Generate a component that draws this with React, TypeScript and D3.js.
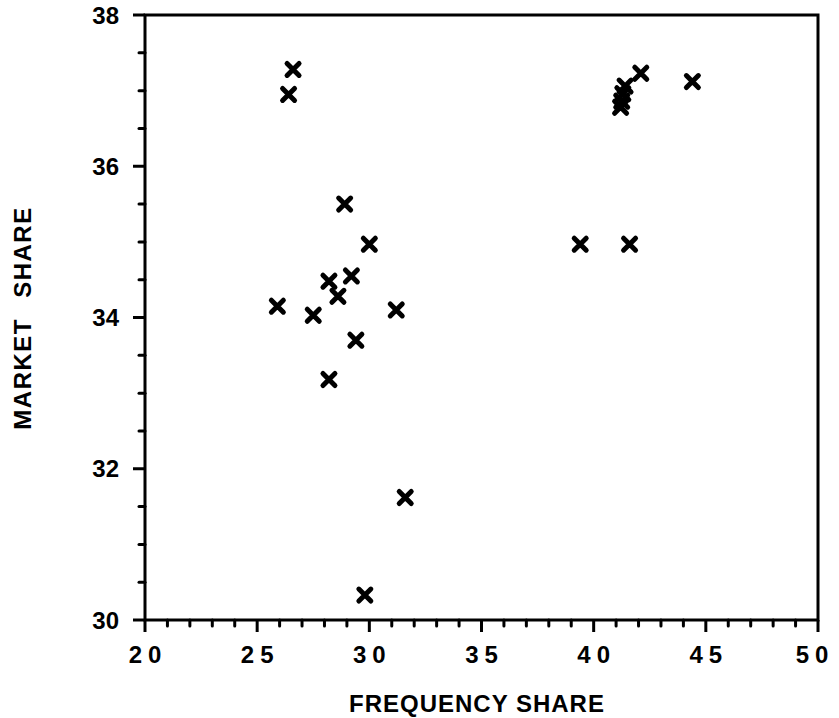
import React, { useEffect, useRef } from "react";
import * as d3 from "d3";

const freqShare = [26.6, 26.4, 28.9, 30.0, 29.2, 28.2, 28.6, 25.9, 27.5, 31.2, 29.4, 28.2, 31.6, 29.8, 39.4, 41.6, 44.4, 42.1, 41.4, 41.3, 41.25, 41.2];
const marketShare = [37.28, 36.95, 35.5, 34.97, 34.55, 34.48, 34.28, 34.15, 34.03, 34.1, 33.7, 33.18, 31.62, 30.33, 34.97, 34.97, 37.12, 37.23, 37.06, 36.96, 36.86, 36.78];
const xTicks = [20, 25, 30, 35, 40, 45, 50];
const yTicks = [30, 32, 34, 36, 38];

export default function App() {
  const ref = useRef<HTMLDivElement>(null);

  useEffect(() => {
    document.body.style.margin = "0";
    const root = d3.select(ref.current);
    root.selectAll("*").remove();
    const width = 839;
    const height = 718;
    const margin = { top: 15, left: 145, bottom: 98, right: 21 };
    const iwidth = width - margin.left - margin.right;
    const iheight = height - margin.top - margin.bottom;

    const svg = root
      .append("svg")
      .attr("width", width)
      .attr("height", height)
      .style("display", "block")
      .style("font-family", "'Liberation Sans', Arial, sans-serif");

    const g = svg.append("g").attr("transform", `translate(${margin.left},${margin.top})`);

    const x = d3.scaleLinear().domain([20, 50]).range([0, iwidth]);
    const y = d3.scaleLinear().domain([30, 38]).range([iheight, 0]);

    // minor ticks
    const xMinor = d3.range(20, 51, 1).filter((v) => v % 5 !== 0);
    const yMinor = d3.range(30, 38.01, 0.5).filter((v) => v % 2 !== 0);

    g.selectAll(".xminor")
      .data(xMinor)
      .enter()
      .append("line")
      .attr("x1", (d) => x(d))
      .attr("x2", (d) => x(d))
      .attr("y1", iheight)
      .attr("y2", iheight + 6)
      .attr("stroke", "#000")
      .attr("stroke-width", 3)
      .attr("stroke-linecap", "round");

    g.selectAll(".xmajor")
      .data(xTicks)
      .enter()
      .append("line")
      .attr("x1", (d) => x(d))
      .attr("x2", (d) => x(d))
      .attr("y1", iheight)
      .attr("y2", iheight + 12)
      .attr("stroke", "#000")
      .attr("stroke-width", 3);

    g.selectAll(".yminor")
      .data(yMinor)
      .enter()
      .append("line")
      .attr("x1", -6)
      .attr("x2", 0)
      .attr("y1", (d) => y(d))
      .attr("y2", (d) => y(d))
      .attr("stroke", "#000")
      .attr("stroke-width", 3)
      .attr("stroke-linecap", "round");

    g.selectAll(".ymajor")
      .data(yTicks)
      .enter()
      .append("line")
      .attr("x1", -12)
      .attr("x2", 0)
      .attr("y1", (d) => y(d))
      .attr("y2", (d) => y(d))
      .attr("stroke", "#000")
      .attr("stroke-width", 3);

    // frame
    g.append("rect")
      .attr("width", iwidth)
      .attr("height", iheight)
      .attr("fill", "none")
      .attr("stroke", "#000")
      .attr("stroke-width", 3);

    g.selectAll(".xlab")
      .data(xTicks)
      .enter()
      .append("text")
      .attr("x", (d, i) => x(d) + 3 - (i === xTicks.length - 1 ? 6 : 0))
      .attr("y", iheight + 43)
      .attr("text-anchor", "middle")
      .style("font-size", "24px")
      .style("font-weight", "bold")
      .style("letter-spacing", "6px")
      .text((d) => d);

    g.selectAll(".ylab")
      .data(yTicks)
      .enter()
      .append("text")
      .attr("x", -26)
      .attr("y", (d) => y(d))
      .attr("dy", "0.36em")
      .attr("text-anchor", "end")
      .style("font-size", "24px")
      .style("font-weight", "bold")
      .text((d) => d);

    svg
      .append("text")
      .attr("x", 477)
      .attr("y", 712)
      .attr("text-anchor", "middle")
      .style("font-size", "24px")
      .style("font-weight", "bold")
      .style("letter-spacing", "1px")
      .text("FREQUENCY SHARE");

    svg
      .append("text")
      .attr("transform", "translate(31,318) rotate(-90)")
      .attr("text-anchor", "middle")
      .style("font-size", "24px")
      .style("font-weight", "bold")
      .style("letter-spacing", "1.5px")
      .style("word-spacing", "12px")
      .text("MARKET SHARE");

    // markers
    const s = 6;
    g.selectAll(".pt")
      .data(freqShare)
      .enter()
      .append("path")
      .attr("transform", (d, i) => `translate(${x(d)},${y(marketShare[i])})`)
      .attr("d", `M${-s},${-s}L${s},${s}M${-s},${s}L${s},${-s}`)
      .attr("stroke", "#000")
      .attr("stroke-width", 5)
      .attr("stroke-linecap", "round")
      .attr("fill", "none");
  }, []);

  return <div ref={ref}></div>;
}
